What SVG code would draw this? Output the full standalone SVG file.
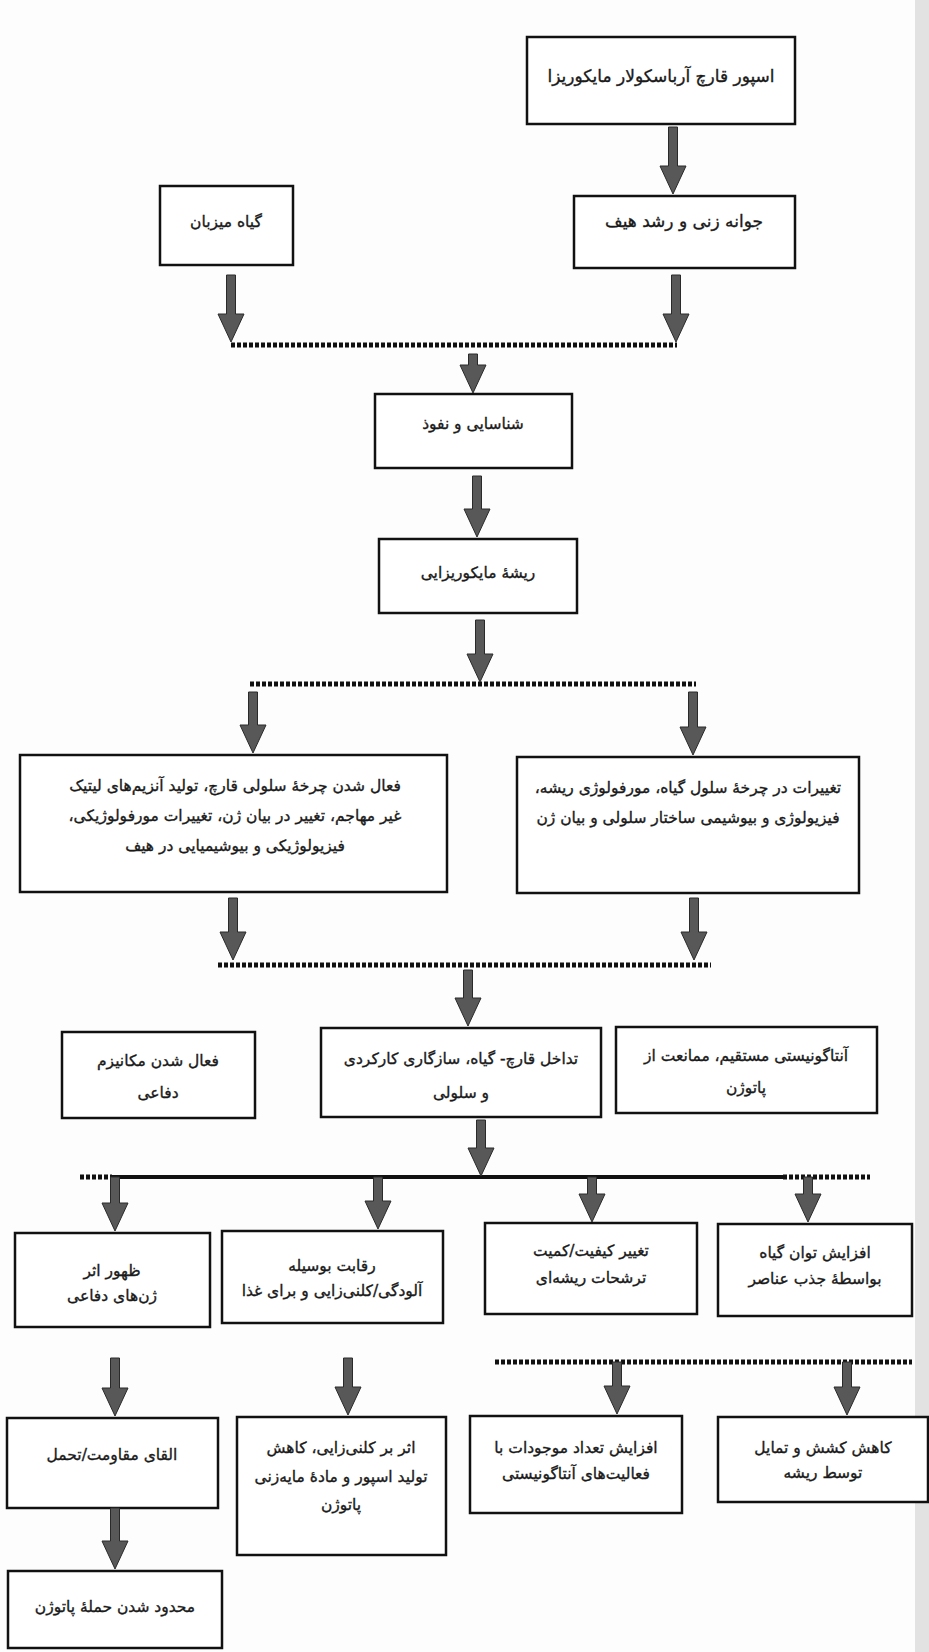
<svg xmlns="http://www.w3.org/2000/svg" width="929" height="1652" viewBox="0 0 929 1652">
<style>
.bg{fill:#fdfdfd}
.box{fill:#ffffff;stroke:#111;stroke-width:2.5}
.t{font-family:"DejaVu Sans",sans-serif;font-size:15.5px;fill:#1a1a1a;stroke:#1a1a1a;stroke-width:0.35;text-anchor:middle;direction:rtl}
.big{font-size:17px}
.arr{fill:#585858;stroke:#2a2a2a;stroke-width:1}
.dot{stroke:#111;stroke-width:5;stroke-dasharray:4 2;fill:none}
.solid{stroke:#111;stroke-width:4;fill:none}
</style>
<rect class="bg" x="0" y="0" width="929" height="1652"/>
<rect x="915" y="0" width="14" height="1652" fill="#e2e2e2"/>

<g id="n1"><rect class="box" x="527" y="37" width="268" height="87"/><text class="t big" x="661" y="82">اسپور قارچ آرباسکولار مایکوریزا</text></g>
<g id="n2"><rect class="box" x="574" y="196" width="221" height="72"/><text class="t big" x="684" y="227">جوانه زنی و رشد هیف</text></g>
<g id="n3"><rect class="box" x="160" y="186" width="133" height="79"/><text class="t" x="226" y="227">گیاه میزبان</text></g>
<g id="n4"><rect class="box" x="375" y="394" width="197" height="74"/><text class="t" x="473" y="429">شناسایی و نفوذ</text></g>
<g id="n5"><rect class="box" x="379" y="539" width="198" height="74"/><text class="t" x="478" y="578">ریشهٔ مایکوریزایی</text></g>
<g id="n6"><rect class="box" x="20" y="755" width="427" height="137"/>
<text class="t" x="235" y="791">فعال شدن چرخهٔ سلولی قارچ، تولید آنزیم&#8204;های لیتیک</text>
<text class="t" x="235" y="821">غیر مهاجم، تغییر در بیان ژن، تغییرات مورفولوژیکی،</text>
<text class="t" x="235" y="851">فیزیولوژیکی و بیوشیمیایی در هیف</text></g>
<g id="n7"><rect class="box" x="517" y="757" width="342" height="136"/>
<text class="t" x="688" y="793">تغییرات در چرخهٔ سلول گیاه، مورفولوژی ریشه،</text>
<text class="t" x="688" y="823">فیزیولوژی و بیوشیمی ساختار سلولی و بیان ژن</text></g>
<g id="n8"><rect class="box" x="62" y="1032" width="193" height="86"/>
<text class="t" x="158" y="1066">فعال شدن مکانیزم</text>
<text class="t" x="158" y="1098">دفاعی</text></g>
<g id="n9"><rect class="box" x="321" y="1028" width="280" height="89"/>
<text class="t" x="461" y="1064">تداخل قارچ- گیاه، سازگاری کارکردی</text>
<text class="t" x="461" y="1098">و سلولی</text></g>
<g id="n10"><rect class="box" x="616" y="1027" width="261" height="86"/>
<text class="t" x="746" y="1061">آنتاگونیستی مستقیم، ممانعت از</text>
<text class="t" x="746" y="1093">پاتوژن</text></g>
<g id="n11"><rect class="box" x="15" y="1233" width="195" height="94"/>
<text class="t" x="112" y="1276">ظهور اثر</text>
<text class="t" x="112" y="1301">ژن&#8204;های دفاعی</text></g>
<g id="n12"><rect class="box" x="222" y="1231" width="221" height="92"/>
<text class="t" x="332" y="1271">رقابت بوسیله</text>
<text class="t" x="332" y="1296">آلودگی/کلنی&#8204;زایی و برای غذا</text></g>
<g id="n13"><rect class="box" x="485" y="1223" width="212" height="91"/>
<text class="t" x="591" y="1256">تغییر کیفیت/کمیت</text>
<text class="t" x="591" y="1283">ترشحات ریشه&#8204;ای</text></g>
<g id="n14"><rect class="box" x="718" y="1224" width="194" height="92"/>
<text class="t" x="815" y="1258">افزایش توان گیاه</text>
<text class="t" x="815" y="1284">بواسطهٔ جذب عناصر</text></g>
<g id="n15"><rect class="box" x="7" y="1418" width="211" height="90"/>
<text class="t" x="112" y="1460">القای مقاومت/تحمل</text></g>
<g id="n16"><rect class="box" x="237" y="1417" width="209" height="138"/>
<text class="t" x="341" y="1453">اثر بر کلنی&#8204;زایی، کاهش</text>
<text class="t" x="341" y="1482">تولید اسپور و مادهٔ مایه&#8204;زنی</text>
<text class="t" x="341" y="1510">پاتوژن</text></g>
<g id="n17"><rect class="box" x="470" y="1416" width="212" height="97"/>
<text class="t" x="576" y="1453">افزایش تعداد موجودات با</text>
<text class="t" x="576" y="1479">فعالیت&#8204;های آنتاگونیستی</text></g>
<g id="n18"><rect class="box" x="718" y="1417" width="210" height="85"/>
<text class="t" x="823" y="1453">کاهش کشش و تمایل</text>
<text class="t" x="823" y="1478">توسط ریشه</text></g>
<g id="n19"><rect class="box" x="8" y="1571" width="214" height="77"/>
<text class="t" x="115" y="1612">محدود شدن حملهٔ پاتوژن</text></g>

<g id="connectors">
<line class="dot" x1="231" y1="345" x2="677" y2="345"/>
<line class="dot" x1="250" y1="684" x2="696" y2="684"/>
<line class="dot" x1="218" y1="965" x2="711" y2="965"/>
<line class="dot" x1="80" y1="1177" x2="112" y2="1177"/>
<line class="solid" x1="112" y1="1177" x2="783" y2="1177"/>
<line class="dot" x1="783" y1="1177" x2="870" y2="1177"/>
<line class="dot" x1="495" y1="1362" x2="912" y2="1362"/>
<polygon class="arr" points="668.5,127 677.5,127 677.5,166 686,166 673,194 660,166 668.5,166"/>
<polygon class="arr" points="226.5,275 235.5,275 235.5,314 244,314 231,342 218,314 226.5,314"/>
<polygon class="arr" points="671.5,275 680.5,275 680.5,314 689,314 676,342 663,314 671.5,314"/>
<polygon class="arr" points="468.5,354 477.5,354 477.5,365 486,365 473,393 460,365 468.5,365"/>
<polygon class="arr" points="472.5,476 481.5,476 481.5,509 490,509 477,537 464,509 472.5,509"/>
<polygon class="arr" points="475.5,620 484.5,620 484.5,654 493,654 480,682 467,654 475.5,654"/>
<polygon class="arr" points="248.5,692 257.5,692 257.5,725 266,725 253,753 240,725 248.5,725"/>
<polygon class="arr" points="688.5,692 697.5,692 697.5,727 706,727 693,755 680,727 688.5,727"/>
<polygon class="arr" points="228.5,898 237.5,898 237.5,932 246,932 233,960 220,932 228.5,932"/>
<polygon class="arr" points="689.5,898 698.5,898 698.5,932 707,932 694,960 681,932 689.5,932"/>
<polygon class="arr" points="463.5,970 472.5,970 472.5,998 481,998 468,1026 455,998 463.5,998"/>
<polygon class="arr" points="476.5,1120 485.5,1120 485.5,1148 494,1148 481,1176 468,1148 476.5,1148"/>
<polygon class="arr" points="110.5,1177 119.5,1177 119.5,1203 128,1203 115,1231 102,1203 110.5,1203"/>
<polygon class="arr" points="373.5,1177 382.5,1177 382.5,1201 391,1201 378,1229 365,1201 373.5,1201"/>
<polygon class="arr" points="587.5,1177 596.5,1177 596.5,1194 605,1194 592,1222 579,1194 587.5,1194"/>
<polygon class="arr" points="803.5,1177 812.5,1177 812.5,1194 821,1194 808,1222 795,1194 803.5,1194"/>
<polygon class="arr" points="110.5,1358 119.5,1358 119.5,1388 128,1388 115,1416 102,1388 110.5,1388"/>
<polygon class="arr" points="343.5,1358 352.5,1358 352.5,1387 361,1387 348,1415 335,1387 343.5,1387"/>
<polygon class="arr" points="612.5,1362 621.5,1362 621.5,1386 630,1386 617,1414 604,1386 612.5,1386"/>
<polygon class="arr" points="842.5,1362 851.5,1362 851.5,1387 860,1387 847,1415 834,1387 842.5,1387"/>
<polygon class="arr" points="110.5,1508 119.5,1508 119.5,1541 128,1541 115,1569 102,1541 110.5,1541"/>
</g>
</svg>
